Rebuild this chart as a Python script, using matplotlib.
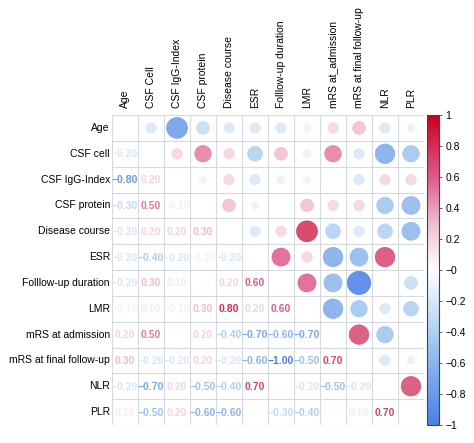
import numpy as np
import matplotlib
matplotlib.use("Agg")
import matplotlib.pyplot as plt
from matplotlib.colors import LinearSegmentedColormap
from matplotlib.patches import Circle
from matplotlib.colorbar import ColorbarBase
from matplotlib.colors import Normalize

plt.rcParams['font.family'] = ['Liberation Sans', 'DejaVu Sans']

col_labels = ["Age", "CSF Cell", "CSF IgG-Index", "CSF protein", "Disease course", "ESR",
              "Folllow-up duration", "LMR", "mRS at_admission", "mRS at final follow-up",
              "NLR", "PLR"]
row_labels = ["Age", "CSF cell", "CSF IgG-Index", "CSF protein", "Disease course", "ESR",
              "Folllow-up duration", "LMR", "mRS at admission", "mRS at final follow-up",
              "NLR", "PLR"]

# lower triangle of the correlation matrix, row by row
lower = [
    [],
    [-0.2],
    [-0.8, 0.2],
    [-0.3, 0.5, -0.1],
    [-0.2, 0.2, 0.2, 0.3],
    [-0.2, -0.4, -0.2, -0.1, -0.2],
    [-0.2, 0.3, 0.1, 0.0, 0.2, 0.6],
    [-0.1, 0.1, -0.1, 0.3, 0.8, 0.2, 0.6],
    [0.2, 0.5, 0.0, 0.2, -0.4, -0.7, -0.6, -0.7],
    [0.3, -0.2, -0.2, 0.2, -0.2, -0.6, -1.0, -0.5, 0.7],
    [-0.2, -0.7, 0.2, -0.5, -0.4, 0.7, 0.0, -0.2, -0.5, -0.2],
    [0.1, -0.5, 0.2, -0.6, -0.6, 0.0, -0.3, -0.4, 0.0, 0.1, 0.7],
]

n = len(row_labels)
M = np.eye(n)
for i, row in enumerate(lower):
    for j, v in enumerate(row):
        M[i, j] = v
        M[j, i] = v

cmap = LinearSegmentedColormap.from_list("corr", [
    (0.0, "#4a7fe6"), (0.25, "#9cc3ee"), (0.5, "#ffffff"),
    (0.65, "#f0bcd3"), (0.8, "#de5b8c"), (1.0, "#c8001e")])
norm = Normalize(-1, 1)

fig = plt.figure(figsize=(4.74, 4.43), dpi=100)
ax = fig.add_axes([112 / 474, 18 / 443, 312 / 474, 310 / 443])
ax.set_xlim(0, n)
ax.set_ylim(n, 0)

for k in range(n + 1):
    ax.axhline(k, color="#d6d9de", lw=0.8, zorder=1)
    ax.axvline(k, color="#d6d9de", lw=0.8, zorder=1)

for i in range(n):
    for j in range(n):
        v = M[i, j]
        if i == j:
            continue
        c = cmap(norm(v))
        if j > i:
            if abs(v) > 0:
                r = 0.45 * np.sqrt(abs(v))
                ax.add_patch(Circle((j + 0.5, i + 0.5), r, facecolor=c, edgecolor=c,
                                    lw=0.5, alpha=0.85, zorder=2))
        else:
            s = "%.2f" % abs(v)
            if v < 0:
                s = "\u2212" + s
            ax.text(j + 0.5, i + 0.52, s, ha="center", va="center", color=c,
                    fontsize=7.5, fontweight="bold", zorder=3)

for s in ax.spines.values():
    s.set_visible(False)
ax.set_xticks([])
ax.set_yticks([])

for i, lab in enumerate(row_labels):
    ax.text(-0.08, i + 0.5, lab, ha="right", va="center", fontsize=7.5)
for j, lab in enumerate(col_labels):
    ax.text(j + 0.5, -0.28, lab, ha="center", va="bottom", rotation=90, fontsize=7.5)

cax = fig.add_axes([427 / 474, 18 / 443, 12 / 474, 310 / 443])
cb = ColorbarBase(cax, cmap=cmap, norm=norm, orientation="vertical")
ticks = np.round(np.arange(-1, 1.01, 0.2), 1)
cb.set_ticks(ticks)
cb.set_ticklabels([("%g" % t).replace("-", "\u2212") for t in ticks])
cb.outline.set_edgecolor("#444444")
cb.outline.set_linewidth(0.8)
cax.tick_params(labelsize=7.5, length=2.5, width=0.6, color="#444444", pad=2)

fig.savefig("out.png", dpi=100)
